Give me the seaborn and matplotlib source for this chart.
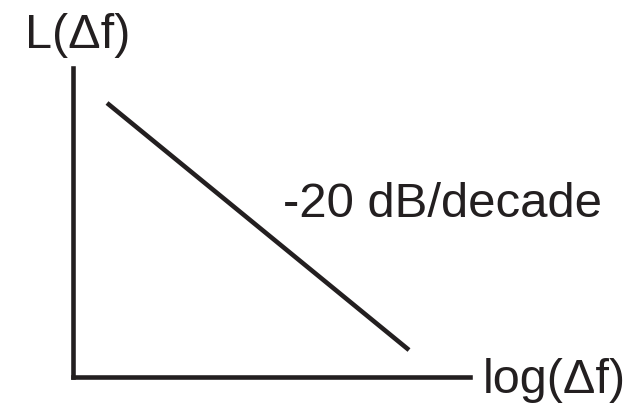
import matplotlib
matplotlib.use("Agg")
import matplotlib.pyplot as plt
import seaborn as sns

# phase noise sketch: -20 dB per decade
decades = [0, 3]
level_db = [0, -60]
y_label = "L(\u0394f)"
x_label = "log(\u0394f)"
slope_label = "-20 dB/decade"

ink = "#231f20"

sns.set_style("white")
plt.rcParams['font.family'] = ['Liberation Sans', 'DejaVu Sans']

fig = plt.figure(figsize=(6.42, 4.03), dpi=100)
ax = fig.add_axes([73 / 642, 26 / 403, 397 / 642, 309 / 403])
sns.lineplot(x=decades, y=level_db, color=ink, linewidth=3.3,
             solid_capstyle="butt", ax=ax)
ax.set_xlim(-0.338, 3.606)
ax.set_ylim(-66.55, 8.5)
ax.set_xticks([])
ax.set_yticks([])
ax.set_xlabel("")
ax.set_ylabel("")
for side in ["top", "right"]:
    ax.spines[side].set_visible(False)
for side in ["left", "bottom"]:
    ax.spines[side].set_color(ink)
    ax.spines[side].set_linewidth(3.3)
    ax.spines[side].set_capstyle("projecting")

fig.text(25 / 642, 1 - 48 / 403, y_label, fontsize=35, color=ink, va="baseline")
fig.text(483 / 642, 1 - 393 / 403, x_label, fontsize=35, color=ink, va="baseline")
fig.text(283 / 642, 1 - 217 / 403, slope_label, fontsize=35.4, color=ink, va="baseline")

fig.savefig("out.png", dpi=100, facecolor="white")
